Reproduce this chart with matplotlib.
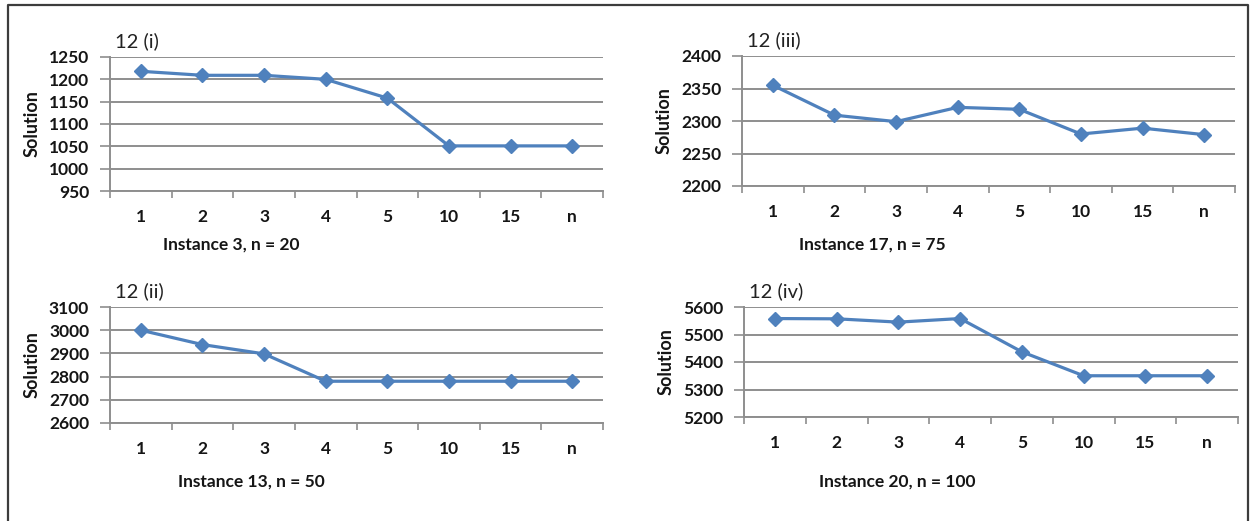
import matplotlib
matplotlib.use("Agg")
import matplotlib.pyplot as plt
from matplotlib.lines import Line2D

plt.rcParams["font.family"] = ["Lato", "DejaVu Sans"]

W, H = 1256, 521

categories = ["1", "2", "3", "4", "5", "10", "15", "n"]

vals_i = [1218, 1209, 1209, 1200, 1158, 1051, 1051, 1051]
vals_ii = [3000, 2938, 2898, 2780, 2780, 2780, 2780, 2780]
vals_iii = [2355, 2309, 2299, 2321, 2318, 2280, 2289, 2279]
vals_iv = [5558, 5557, 5545, 5558, 5437, 5350, 5350, 5350]

titles = ["12 (i)", "12 (ii)", "12 (iii)", "12 (iv)"]
xlabels = ["Instance 3, n = 20", "Instance 13, n = 50",
           "Instance 17, n = 75", "Instance 20, n = 100"]
yticks_i = [950, 1000, 1050, 1100, 1150, 1200, 1250]
yticks_ii = [2600, 2700, 2800, 2900, 3000, 3100]
yticks_iii = [2200, 2250, 2300, 2350, 2400]
yticks_iv = [5200, 5300, 5400, 5500, 5600]

# pixel boxes: left, top, right, bottom of plot area
panels = [
    (vals_i, yticks_i, titles[0], xlabels[0], (110, 57, 603, 191), (231, 245)),
    (vals_ii, yticks_ii, titles[1], xlabels[1], (110, 307, 603, 423), (251, 482)),
    (vals_iii, yticks_iii, titles[2], xlabels[2], (742, 56, 1235, 186), (872, 245)),
    (vals_iv, yticks_iv, titles[3], xlabels[3], (744, 307, 1238, 417), (897, 482)),
]

BLUE = "#4F81BD"
GRID = "#8E8E8E"
TXT = "#151515"

fig = plt.figure(figsize=(W / 100, H / 100), dpi=100)

for vals, yt, title, xl, (l, t, r, b), (lx, ly) in panels:
    ax = fig.add_axes([l / W, (H - b) / H, (r - l) / W, (b - t) / H])
    x = list(range(len(categories)))
    ax.plot(x, vals, color=BLUE, lw=2.3, marker="D", markersize=7,
            markeredgecolor=BLUE, zorder=3, clip_on=False)
    ax.set_xlim(-0.5, len(categories) - 0.5)
    ax.set_ylim(yt[0], yt[-1])
    ax.set_yticks(yt)
    ax.set_yticklabels([str(v) for v in yt])
    ax.set_xticks([i - 0.5 for i in range(len(categories) + 1)])
    ax.set_xticklabels([])
    ax.set_xticks(x, minor=True)
    ax.set_xticklabels(categories, minor=True)
    ax.tick_params(axis="x", which="major", length=5, width=1.2, color=GRID,
                   direction="out")
    ax.tick_params(axis="x", which="minor", length=0, pad=13,
                   labelsize=12.5, labelcolor=TXT)
    ax.tick_params(axis="y", length=7, width=1.2, color=GRID, pad=8,
                   labelsize=12.5, labelcolor=TXT)
    for lab in ax.get_xticklabels(minor=True) + ax.get_yticklabels():
        lab.set_fontweight("bold")
    ax.grid(axis="y", color=GRID, lw=1.4)
    ax.set_axisbelow(True)
    for s in ("top", "right"):
        ax.spines[s].set_visible(False)
    for s in ("left", "bottom"):
        ax.spines[s].set_color(GRID)
        ax.spines[s].set_linewidth(1.4)
    ax.set_ylabel("Solution", fontsize=13, fontweight="bold", color=TXT,
                  labelpad=6)
    fig.text((l + 5) / W, 1 - (t - 16) / H, title, fontsize=14.5,
             color="#222222", ha="left", va="center")
    fig.text(lx / W, 1 - ly / H, xl, fontsize=12.5, fontweight="bold",
             color=TXT, ha="center", va="center")

# outer frame
fx = [8 / W, 8 / W, 1248 / W, 1248 / W]
fy = [0, 1 - 5 / H, 1 - 5 / H, 0]
fig.add_artist(Line2D(fx, fy, color="#3C3C3C", lw=1.6))

fig.savefig("out.png", dpi=100)
